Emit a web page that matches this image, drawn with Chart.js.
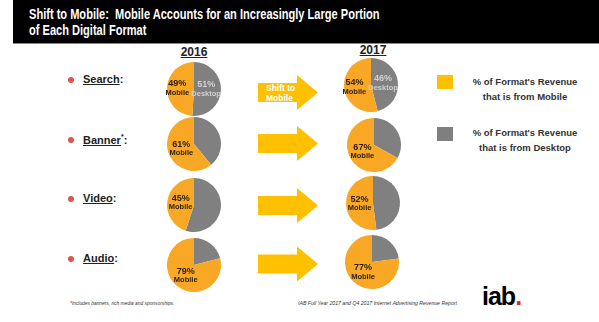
<!DOCTYPE html>
<html>
<head>
<meta charset="utf-8">
<script src="https://cdn.jsdelivr.net/npm/chart.js@4"></script>
<style>
  body { margin: 0; width: 599px; height: 322px; background: #fff; position: relative; overflow: hidden;
         font-family: "Liberation Sans", Arial, sans-serif; }
  .abs { position: absolute; }
  #header { left: 13px; top: 0; width: 586px; height: 43px; background: #000; border-bottom: 1px solid #888; }
  #title { left: 29px; top: 6px; color: #fff; font-weight: bold; font-size: 14px; line-height: 16px;
           transform: scaleX(0.79); transform-origin: left top; white-space: nowrap; }
  .year { font-weight: bold; font-size: 12px; text-decoration: underline; color: #222; transform: translateX(-50%); }
  .fmt { font-weight: bold; font-size: 11px; color: #222; white-space: nowrap; }
  .fmt u { text-decoration: underline; }
  .dot { width: 6px; height: 6px; border-radius: 50%; background: #e0524f; }
  .leg { font-weight: bold; font-size: 9.5px; color: #333; text-align: center; width: 130px; line-height: 15px; }
  .sq { width: 16px; height: 14px; }
  .foot { font-style: italic; color: #333; white-space: nowrap; transform-origin: left top; }
  canvas.pie { position: absolute; }
</style>
</head>
<body>
<div id="header" class="abs"></div>
<div id="title" class="abs">Shift to Mobile:&nbsp; Mobile Accounts for an Increasingly Large Portion<br>of Each Digital Format</div>

<svg class="abs" style="left:0;top:0" width="599" height="322" id="arrows"></svg>

<div class="abs year" style="left:194px;top:45px">2016</div>
<div class="abs year" style="left:373px;top:43px">2017</div>

<div id="labels"></div>

<div class="abs sq" style="left:437px;top:75px;background:#FFC000"></div>
<div class="abs leg" style="left:460px;top:74px">% of Format's Revenue<br>that is from Mobile</div>
<div class="abs sq" style="left:437px;top:127px;background:#7F7F7F"></div>
<div class="abs leg" style="left:460px;top:125px">% of Format's Revenue<br>that is from Desktop</div>

<div class="abs foot" style="left:70px;top:300px;font-size:5.5px;transform:scaleX(0.88)">*Includes banners, rich media and sponsorships.</div>
<div class="abs foot" style="left:298px;top:300px;font-size:6px;transform:scaleX(0.86)">IAB Full Year 2017 and Q4 2017 Internet Advertising Revenue Report</div>
<div class="abs" style="left:482px;top:282px;font-weight:bold;font-size:25px;letter-spacing:-1px;color:#000">iab<span style="color:#e0252b">.</span></div>

<script>
// data
const formats = ['Search', 'Banner*', 'Video', 'Audio']
const mobile2016 = [49, 61, 45, 79]
const mobile2017 = [54, 67, 52, 77]
const desktop2016 = [51, 39, 55, 21]
const desktop2017 = [46, 33, 48, 23]
const showDesktop = [true, false, false, false]

const ORANGE = '#F9A825'
const GREY = '#808080'

// layout: row centres and pie centres
const rowY = [80, 140, 199, 259]
const arrowY = [92.5, 143.5, 205.5, 264]
const pie2016 = [[194, 89], [194, 144], [194, 205], [194, 265]]
const pie2017 = [[371, 85], [374, 145], [373, 203], [372, 262]]
const PIE = 64   // canvas size, pie radius = PIE/2 - PAD
const PAD = 5

// left labels with red dots
const lab = document.getElementById('labels')
formats.forEach((f, i) => {
    const d = document.createElement('div')
    d.className = 'abs dot'
    d.style.left = '68px'
    d.style.top = (rowY[i] - 3) + 'px'
    lab.appendChild(d)
    const t = document.createElement('div')
    t.className = 'abs fmt'
    t.style.left = '83px'
    t.style.top = (rowY[i] - 7) + 'px'
    const name = f.replace('*', '')
    t.innerHTML = '<u>' + name + '</u>' + (f.includes('*') ? '<sup style="font-size:7px">*</sup>' : '') + ':'
    lab.appendChild(t)
})

// arrows
const svg = document.getElementById('arrows')
arrowY.forEach((y, i) => {
    const p = document.createElementNS('http://www.w3.org/2000/svg', 'polygon')
    const pts = [[258, y - 9.5], [297, y - 9.5], [297, y - 17.5], [318, y], [297, y + 17.5], [297, y + 9.5], [258, y + 9.5]]
    p.setAttribute('points', pts.map(q => q.join(',')).join(' '))
    p.setAttribute('fill', '#FFC000')
    svg.appendChild(p)
    if (i == 0) {
        const t = document.createElementNS('http://www.w3.org/2000/svg', 'text')
        t.setAttribute('font-family', 'Liberation Sans, Arial')
        t.setAttribute('font-weight', 'bold')
        t.setAttribute('font-size', '8.5')
        t.setAttribute('fill', '#fff')
        t.innerHTML = '<tspan x="266" y="' + (y - 1.5) + '">Shift to</tspan><tspan x="266" y="' + (y + 8) + '">Mobile</tspan>'
        svg.appendChild(t)
    }
})

// draws the "49% Mobile" style labels inside the slices
const sliceLabels = {
    id: 'sliceLabels',
    afterDatasetsDraw(chart) {
        const ctx = chart.ctx
        const labels = chart.options.plugins.sliceLabels.labels
        chart.getDatasetMeta(0).data.forEach((arc, i) => {
            const l = labels[i]
            if (!l) return
            const p = arc.getProps(['x', 'y', 'startAngle', 'endAngle', 'outerRadius'])
            const a = (p.startAngle + p.endAngle) / 2
            const r = p.outerRadius * l.f
            const x = p.x + Math.cos(a) * r
            const y = p.y + Math.sin(a) * r
            ctx.save()
            ctx.fillStyle = l.color
            ctx.textAlign = 'center'
            ctx.textBaseline = 'middle'
            ctx.font = 'bold 9px "Liberation Sans", Arial'
            ctx.fillText(l.pct, x, y - 4.5)
            ctx.font = 'bold 7.5px "Liberation Sans", Arial'
            ctx.fillText(l.name, x, y + 4.5)
            ctx.restore()
        })
    }
}

function makePie(pos, desk, mob, withDesk) {
    const c = document.createElement('canvas')
    c.className = 'pie'
    c.width = PIE
    c.height = PIE
    c.style.left = (pos[0] - PIE / 2) + 'px'
    c.style.top = (pos[1] - PIE / 2) + 'px'
    document.body.appendChild(c)
    new Chart(c.getContext('2d'), {
        type: 'pie',
        data: {
            labels: ['Desktop', 'Mobile'],
            datasets: [{
                data: [desk, mob],
                backgroundColor: [GREY, ORANGE],
                borderWidth: 0
            }]
        },
        options: {
            responsive: false,
            animation: false,
            devicePixelRatio: 1,
            layout: { padding: PAD },
            plugins: {
                legend: { display: false },
                tooltip: { enabled: false },
                sliceLabels: {
                    labels: [
                        withDesk ? { pct: desk + '%', name: 'Desktop', color: '#d0d0d0', f: 0.45 } : null,
                        { pct: mob + '%', name: 'Mobile', color: '#2b1d0e', f: withDesk ? 0.62 : 0.5 }
                    ]
                }
            }
        },
        plugins: [sliceLabels]
    })
}

formats.forEach((f, i) => {
    makePie(pie2016[i], desktop2016[i], mobile2016[i], showDesktop[i])
    makePie(pie2017[i], desktop2017[i], mobile2017[i], showDesktop[i])
})
</script>
</body>
</html>
